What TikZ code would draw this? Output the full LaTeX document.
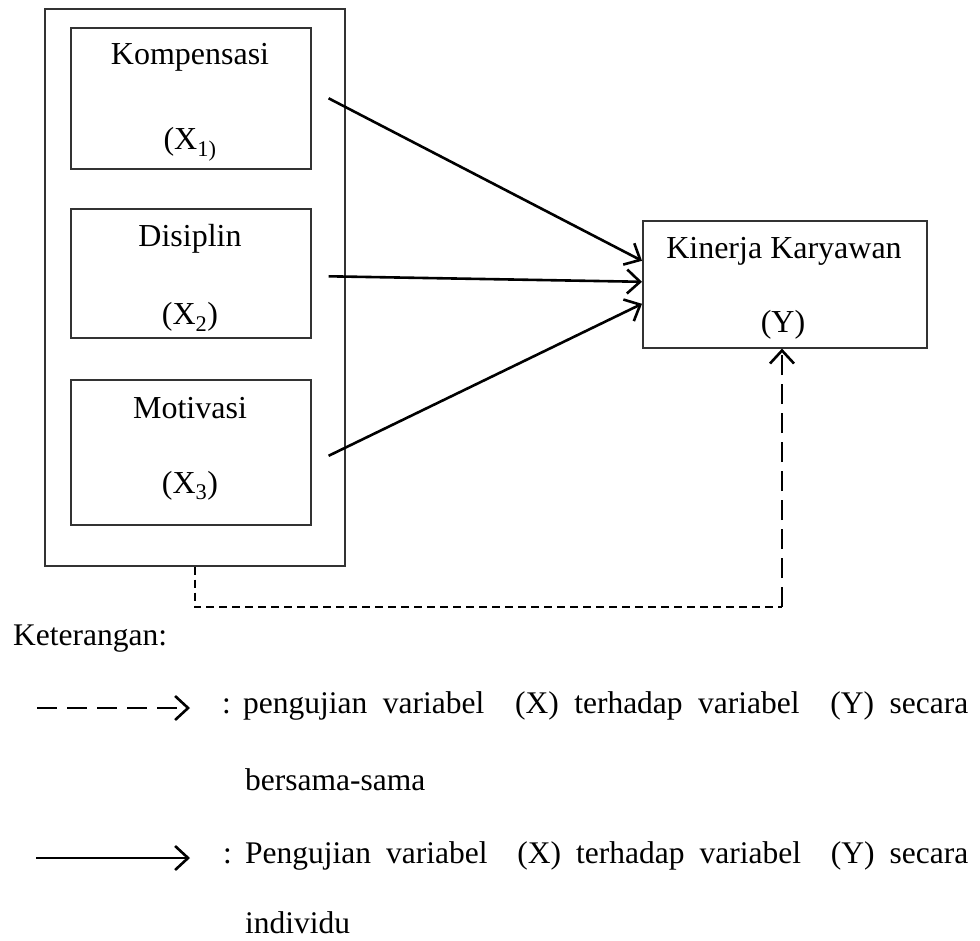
\documentclass[tikz,border=0pt]{standalone}
\usepackage{fontspec}
\setmainfont{Liberation Serif}
\usetikzlibrary{arrows.meta,calc}
\tikzset{mytip/.tip={Straight Barb[length=13pt,width=24pt,line width=2.6pt]}}
\newcommand{\jline}[1]{\hbox to 725pt{#1}}
\begin{document}
\begin{tikzpicture}[x=1pt,y=-1pt,
  txt/.style={font=\fontsize{32}{38}\selectfont, inner sep=0pt, anchor=base},
  lg/.style={font=\fontsize{31.5}{37}\selectfont, inner sep=0pt, anchor=base west},
  frame/.style={draw=black!80, line width=1.6pt},
  varbox/.style={frame, minimum width=240pt, inner sep=0pt, anchor=north west},
  arr/.style={line width=2.6pt, -{mytip}},
  thindash/.style={line width=1.5pt, dash pattern=on 8pt off 5pt},
  thickdash/.style={line width=2.8pt, dash pattern=on 20pt off 9pt, -{mytip}},
  legdash/.style={line width=2.4pt, dash pattern=on 20pt off 10pt, -{mytip}},
  legsolid/.style={line width=2.4pt, -{mytip}}
]
\useasboundingbox (0,0) rectangle (980,941);

% outer frame
\node[frame, minimum width=300pt, minimum height=557pt, inner sep=0pt, anchor=north west] (outer) at (44,8) {};

% variable boxes
\node[varbox, minimum height=141pt] (k) at (70,27) {};
\node[varbox, minimum height=129pt] (d) at (70,208) {};
\node[varbox, minimum height=145pt] (m) at (70,379) {};
\node[frame, minimum width=284pt, minimum height=127pt, inner sep=0pt, anchor=north west] (ky) at (642,220) {};

% texts
\node[txt] (kt) at (190,65) {Kompensasi};
\node[txt] (kx) at (190,150) {(X\textsubscript{1)}};
\node[txt] (dt) at (190,247) {Disiplin};
\node[txt] (dx) at (190,325) {(X\textsubscript{2})};
\node[txt] (mt) at (190,418) {Motivasi};
\node[txt] (mx) at (190,493) {(X\textsubscript{3})};
\node[txt] (kyt) at (784,259) {Kinerja Karyawan};
\node[txt] (kyx) at (783,333) {(Y)};

% arrows
\draw[arr] ($(k.east)+(17,0)$) -- ([yshift=23.5pt]ky.west);
\draw[arr] ($(d.east)+(17,3)$) -- ([yshift=2.5pt]ky.west);
\draw[arr] ($(m.east)+(17,3.5)$) -- ([yshift=-19.5pt]ky.west);

% dashed joint path
\coordinate (c) at (782,607);
\draw[thindash] (outer.south) -- (outer.south |- c) -- (c);
\draw[thickdash] (c) -- (ky.south -| c);

% legend
\node[lg] (ket) at (13,645) {Keterangan:};
\coordinate (l1a) at (37,708);
\coordinate (l1b) at (190,708);
\draw[legdash] (l1a) -- (l1b);
\node[lg] (a1) at (222,713) {:};
\node[lg] (a2) at (243,713) {\jline{pengujian\hfill variabel\hfill\hfill (X)\hfill terhadap\hfill variabel\hfill\hfill (Y)\hfill secara}};
\node[lg] (a9) at (245,790) {bersama-sama};

\coordinate (l2a) at (36,858);
\coordinate (l2b) at (190,858);
\draw[legsolid] (l2a) -- (l2b);
\node[lg] (b1) at (223,863) {:};
\node[lg] (b2) at (245,863) {\hbox to 723pt{Pengujian\hfill variabel\hfill\hfill (X)\hfill terhadap\hfill variabel\hfill\hfill (Y)\hfill secara}};
\node[lg] (b9) at (245,933) {individu};
\end{tikzpicture}
\end{document}
